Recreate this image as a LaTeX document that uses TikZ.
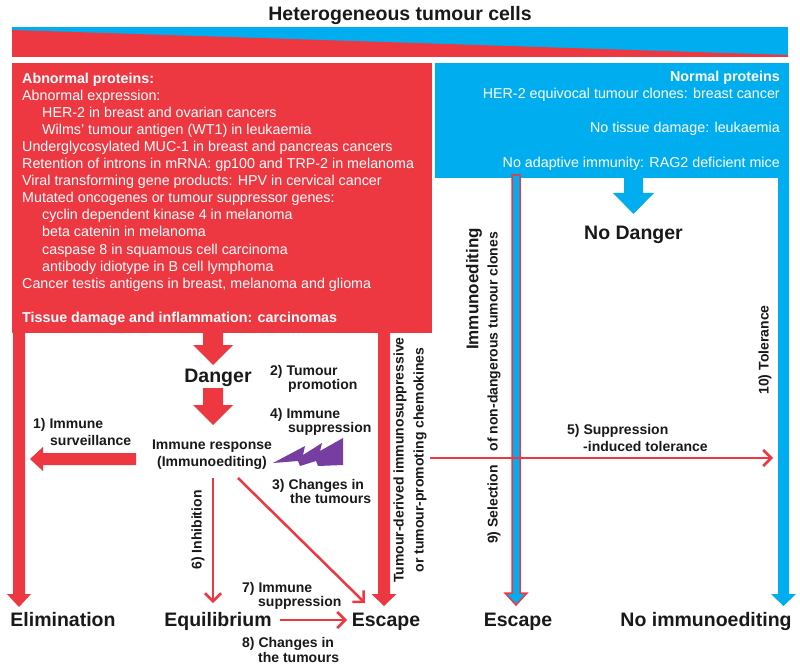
\documentclass[tikz,border=0pt]{standalone}
\usepackage{fontspec}
\setmainfont{Liberation Sans}
\usetikzlibrary{arrows.meta}
\definecolor{tred}{RGB}{237,56,66}
\definecolor{tblue}{RGB}{0,174,239}
\definecolor{tpurple}{RGB}{118,62,160}
\definecolor{tink}{RGB}{25,25,25}
\newcommand\blockdn[7]{\fill[#7] (#1-#5,#2) -- (#1+#5,#2) -- (#1+#5,#3) -- (#1+#6,#3) -- (#1,#4) -- (#1-#6,#3) -- (#1-#5,#3) -- cycle;}
\begin{document}
\begin{tikzpicture}[x=1pt,y=-1pt,
  lab/.style={font=\bfseries\fontsize{14}{15}\selectfont, inner sep=0pt, anchor=base west, text=tink},
  big/.style={font=\bfseries\fontsize{19.5}{22}\selectfont, inner sep=0pt, anchor=base, text=tink},
  vlab/.style={font=\bfseries\fontsize{14}{20}\selectfont, inner sep=0pt, rotate=90, text=tink, align=center},
  thinarr/.style={tred, line width=2.5pt, -{Straight Barb[length=8pt,width=16pt]}}]
\useasboundingbox (0,0) rectangle (800,668);
\fill[white] (0,0) rectangle (800,668);

% title and gradient bar
\node[font=\bfseries\fontsize{19.5}{22}\selectfont, text=tink, anchor=base] (title) at (400,21) {Heterogeneous tumour cells};
\fill[tblue] (12,27) rectangle (788,57);
\fill[tred] (12,30) -- (788,55) -- (788,57) -- (12,57) -- cycle;

% red box and frame
\fill[tred] (12,63) rectangle (432,333);
\blockdn{19}{332}{594}{607}{6}{12}{tred}
\blockdn{384}{332}{594}{606}{6}{12.5}{tred}
\blockdn{213}{332}{345}{365}{10}{20}{tred}
\blockdn{213}{388}{405}{425}{10}{20}{tred}

% blue box and frame
\fill[tblue] (435,63) rectangle (789,178);
\blockdn{783.5}{177}{594}{606}{5.5}{12.5}{tblue}
\blockdn{633.5}{177}{193}{214}{9.5}{20.5}{tblue}

% red box text
\node[anchor=north west, inner sep=0pt, align=left, text=white, font=\fontsize{14.3}{17.1}\selectfont] (abn) at (22,72.5) {\textbf{Abnormal proteins:}\\
Abnormal expression:\\
\hspace*{20pt}HER-2 in breast and ovarian cancers\\
\hspace*{20pt}Wilms' tumour antigen (WT1) in leukaemia\\
Underglycosylated MUC-1 in breast and pancreas cancers\\
Retention of introns in mRNA: gp100 and TRP-2 in melanoma\\
Viral transforming gene products: HPV in cervical cancer\\
Mutated oncogenes or tumour suppressor genes:\\
\hspace*{20pt}cyclin dependent kinase 4 in melanoma\\
\hspace*{20pt}beta catenin in melanoma\\
\hspace*{20pt}caspase 8 in squamous cell carcinoma\\
\hspace*{20pt}antibody idiotype in B cell lymphoma\\
Cancer testis antigens in breast, melanoma and glioma\\[17.1pt]
\textbf{Tissue damage and inflammation: carcinomas}};

% blue box text
\node[anchor=north east, inner sep=0pt, align=right, text=white, font=\fontsize{14.3}{17.1}\selectfont] (norm) at (780,71) {\textbf{Normal proteins}\\
HER-2 equivocal tumour clones: breast cancer\\[17.1pt]
No tissue damage: leukaemia\\[17.1pt]
No adaptive immunity: RAG2 deficient mice};

% central texts
\node[big] (danger) at (218,382) {Danger};
\node[big] (nodanger) at (633.5,240) {No Danger};
\node[font=\bfseries\fontsize{14}{17}\selectfont, text=tink, align=center, inner sep=0pt] (resp) at (212,455) {Immune response\\(Immunoediting)};

% immune surveillance arrow
\coordinate (survtail) at (136,459);
\coordinate (survtip) at (30,459);
\fill[tred] (136,453) -- (43,453) -- (43,447) -- (survtip) -- (43,471) -- (43,465) -- (136,465) -- cycle;
\node[lab] (l1a) at (33,428) {1) Immune};
\node[lab] (l1b) at (50,445) {surveillance};

% lightning
\fill[tpurple] (273,463) -- (305,446) -- (303,455) -- (322,443) -- (320,451) -- (343,438) -- (343,465) -- (318,466) -- (316,461) -- (300,466) -- (298,461) -- cycle;

\node[lab] (l2a) at (270,375) {2) Tumour};
\node[lab] (l2b) at (288,389) {promotion};
\node[lab] (l4a) at (270,418) {4) Immune};
\node[lab] (l4b) at (288,432) {suppression};
\node[lab] (l3a) at (272,489) {3) Changes in};
\node[lab] (l3b) at (290,503) {the tumours};

% bottom outcomes
\node[big] (elim) at (63,626) {Elimination};
\node[big] (equil) at (218,626) {Equilibrium};
\node[big] (esc1) at (386,626) {Escape};
\node[big] (esc2) at (518,626) {Escape};
\node[big] (noim) at (706,626) {No immunoediting};

% thin arrows
\coordinate (r1) at (213,478);
\coordinate (r2) at (238,478);
\coordinate (eqtop) at (213,603);
\coordinate (esctop) at (365,603);
\coordinate (eqr) at (280,620);
\coordinate (escl) at (347,620);
\draw[thinarr] (r1) -- (eqtop);
\draw[thinarr] (r2) -- (esctop);
\draw[thinarr] (eqr) -- (escl);
\node[vlab] (l6) at (198,530) {6) Inhibition};
\node[lab] (l7a) at (242,592) {7) Immune};
\node[lab] (l7b) at (258,606) {suppression};
\node[lab] (l8a) at (242,647) {8) Changes in};
\node[lab] (l8b) at (258,662) {the tumours};

% rotated texts
\node[vlab] (chem) at (410,460) {Tumour-derived immunosuppressive\\or tumour-promoting chemokines};
\node[vlab, font=\bfseries\fontsize{17}{20}\selectfont] (imed) at (474,289) {Immunoediting};
\node[vlab] (sel) at (494,388) {9) Selection\hspace{14pt}of non-dangerous tumour clones};
\node[vlab] (tol) at (765,350) {10) Tolerance};

% selection arrow
\filldraw[fill=tblue, draw=tred, line width=1.5pt] (512,175) -- (520,175) -- (520,593) -- (527,593) -- (516,605) -- (505,593) -- (512,593) -- cycle;

% suppression-induced tolerance
\coordinate (s5a) at (430,458);
\coordinate (s5b) at (773,458);
\draw[thinarr] (s5a) -- (s5b);
\node[lab] (l5a) at (567,434) {5) Suppression};
\node[lab] (l5b) at (583,451) {-induced tolerance};
\end{tikzpicture}
\end{document}
